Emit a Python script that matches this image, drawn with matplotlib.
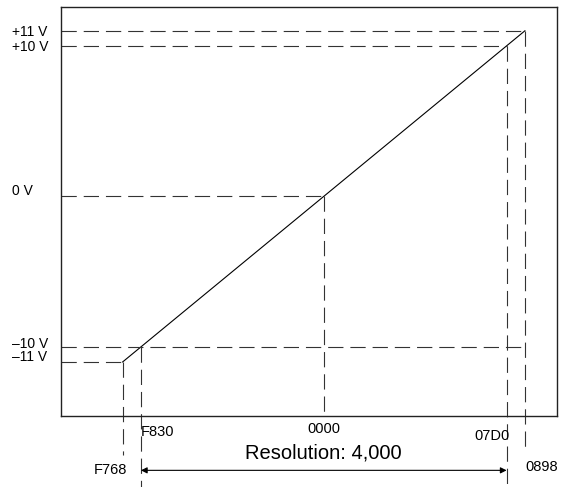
import matplotlib.pyplot as plt
import matplotlib.transforms as mtransforms

plt.rcParams['font.family'] = ['Liberation Sans', 'DejaVu Sans']
plt.rcParams['lines.scale_dashes'] = False

# conversion points: voltage vs. converted hex value
volts = [-11, -10, 0, 10, 11]
volt_labels = ['\u201311 V', '\u201310 V', '0 V', '+10 V', '+11 V']
codes = ['F768', 'F830', '0000', '07D0', '0898']
values = [-2200, -2000, 0, 2000, 2200]
resolution_text = 'Resolution: 4,000'

# where each horizontal guide stops (x) and each vertical guide stops (y)
h_end = [-2200, 2200, 0, 2000, 2200]
v_end = [-17.2, -19.4, None, -19.4, -17.0]

fig = plt.figure(figsize=(5.63, 4.87), dpi=100)
ax = fig.add_axes([61 / 563, 1 - 416 / 487, 496 / 563, 409 / 487])
ax.set_xlim(-2874, 2551)
ax.set_ylim(-14.59, 12.58)
ax.set_xticks([])
ax.set_yticks([])
for s in ax.spines.values():
    s.set_linewidth(1.0)
    s.set_color('#222222')

# the transfer line
ax.plot(values[::4], volts[::4], color='black', lw=0.8)

dash = dict(color='#333333', lw=0.8, dashes=(11, 5), clip_on=False)
x0 = ax.get_xlim()[0]
y0 = ax.get_ylim()[0]
for v, x, he, ve in zip(volts, values, h_end, v_end):
    ax.plot([x0, he], [v, v], **dash)
    ax.plot([x, x], [v, ve if ve is not None else y0], **dash)

# voltage labels on the left (small vertical nudges as in the original)
nudge = [0.3, 0.2, 0.33, -0.05, -0.1]
trans = mtransforms.blended_transform_factory(fig.transFigure, ax.transData)
for v, lab, dy in zip(volts, volt_labels, nudge):
    ax.text(12 / 563, v + dy, lab, transform=trans, ha='left', va='center',
            fontsize=10)

# hex code labels below
code_pos = [(-18.2, 'right', 3), (-15.65, 'left', 0), (-15.45, 'center', 0),
            (-15.9, 'right', 2), (-18.0, 'left', 0)]
for x, c, (y, ha, dx) in zip(values, codes, code_pos):
    ax.annotate(c, xy=(x, y), xytext=(dx, 0), textcoords='offset points',
                ha=ha, va='center', fontsize=10.5, annotation_clip=False)

# resolution arrow
ax.annotate('', xy=(values[1], -18.2), xytext=(values[3], -18.2),
            arrowprops=dict(arrowstyle='<|-|>', color='black', lw=0.8,
                            mutation_scale=9, shrinkA=0, shrinkB=0),
            annotation_clip=False)
ax.text(0, -17.05, resolution_text, ha='center', va='center', fontsize=14.5,
        clip_on=False)

fig.savefig('out.png', dpi=100)
